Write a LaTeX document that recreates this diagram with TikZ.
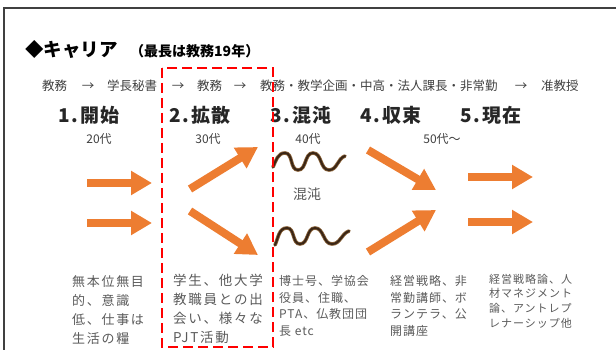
\documentclass[tikz,border=0pt]{standalone}
\usepackage{fontspec}
\setmainfont{Noto Sans CJK JP}
\usetikzlibrary{arrows.meta}
\definecolor{orng}{HTML}{ED7D31}
\definecolor{txtgray}{HTML}{5A5A5A}
\definecolor{hdrgray}{HTML}{404040}
\definecolor{brownout}{HTML}{8A6238}
\definecolor{browncore}{HTML}{3A2616}
\tikzset{
  frameline/.style={draw=hdrgray,line width=1.7pt},
  reddash/.style={draw=red,line width=2.7pt,dash pattern=on 10pt off 5pt},
  oarrow/.style={draw=orng,line width=8pt,-{Triangle[length=21pt,width=23pt]}},
  waveout/.style={draw=brownout,line width=3.6pt,line cap=round},
  wavecore/.style={draw=browncore,line width=2pt,line cap=round},
  hdr/.style={inner sep=0pt,anchor=base west,text=hdrgray,font=\fontsize{12.5}{14}\selectfont},
  hdrarrow/.style={inner sep=0pt,anchor=base,text=hdrgray,font=\fontsize{12.5}{14}\selectfont},
  stagehead/.style={inner sep=0pt,anchor=base,text=black!85,font=\fontsize{19}{22}\selectfont\bfseries\addfontfeature{LetterSpace=10}},
  age/.style={inner sep=0pt,anchor=base,text=hdrgray,font=\fontsize{12}{14}\selectfont},
  desc/.style={inner sep=0pt,anchor=base west,align=left,text=txtgray},
}
\begin{document}
\begin{tikzpicture}[x=1pt,y=-1pt]
\useasboundingbox (0,0) rectangle (616,350);
% frame
\draw[frameline] (4,351) -- (4,8) -- (617,8);
% title
\node[inner sep=0pt,anchor=base west,font=\fontsize{18.5}{22}\selectfont\bfseries] (title) at (25,57) {◆キャリア};
\node[inner sep=0pt,anchor=base west,font=\fontsize{14}{16}\selectfont\bfseries] (sub) at (130,57) {（最長は教務19年）};
% career line
\node[hdr] (h1) at (42,90.7) {教務};
\node[hdrarrow] (h2) at (88,90.7) {→};
\node[hdr] (h3) at (107,90.7) {学長秘書};
\node[hdrarrow] (h4) at (178,90.7) {→};
\node[hdr] (h5) at (197,90.7) {教務};
\node[hdrarrow] (h6) at (240,90.7) {→};
\node[hdr] (h7) at (260,90.7) {教務・教学企画・中高・法人課長・非常勤};
\node[hdrarrow] (h8) at (521,90.7) {→};
\node[hdr] (h9) at (541,90.7) {准教授};
% stage headings
\node[stagehead] (s1) at (89,123) {1.開始};
\node[stagehead] (s2) at (200,123) {2.拡散};
\node[stagehead] (s3) at (301,123) {3.混沌};
\node[stagehead] (s4) at (391,123) {4.収束};
\node[stagehead] (s5) at (491,123) {5.現在};
% ages
\node[age] (g1) at (99,143.5) {20代};
\node[age] (g2) at (208,143.5) {30代};
\node[age] (g3) at (308,143.5) {40代};
\node[age] (g4) at (442,143.5) {50代～};
% stage 1 arrows
\coordinate (a1s) at (87,183); \coordinate (a1e) at (152,183);
\coordinate (a2s) at (87,223); \coordinate (a2e) at (152,223);
\draw[oarrow] (a1s) -- (a1e);
\draw[oarrow] (a2s) -- (a2e);
% stage 2 arrows
\coordinate (b1s) at (190,189); \coordinate (b1e) at (258,147);
\coordinate (b2s) at (190,211); \coordinate (b2e) at (258,255);
\draw[oarrow] (b1s) -- (b1e);
\draw[oarrow] (b2s) -- (b2e);
% stage 3 waves
\coordinate (w1s) at (273,167); \coordinate (w1e) at (345,156);
\coordinate (w2s) at (275,245); \coordinate (w2e) at (349,231);
\foreach \st in {waveout,wavecore}{
\draw[\st] (w1s) to[out=65,in=180] (285,153) to[out=0,in=180] (298,170) to[out=0,in=180] (313,153) to[out=0,in=180] (329,170) to[out=0,in=200] (w1e);
\draw[\st] (w2s) to[out=65,in=180] (287,228) to[out=0,in=180] (300,244) to[out=0,in=180] (315,228) to[out=0,in=180] (332,244) to[out=0,in=200] (w2e);
}
\node[inner sep=0pt,anchor=base,text=txtgray,font=\fontsize{14}{16}\selectfont] (chaos) at (307,200) {混沌};
% stage 4 arrows
\coordinate (c1s) at (368,150); \coordinate (c1e) at (436,190);
\coordinate (c2s) at (368,252); \coordinate (c2e) at (436,210);
\draw[oarrow] (c1s) -- (c1e);
\draw[oarrow] (c2s) -- (c2e);
% stage 5 arrows
\coordinate (d1s) at (468,177); \coordinate (d1e) at (533,177);
\coordinate (d2s) at (468,222); \coordinate (d2e) at (533,222);
\draw[oarrow] (d1s) -- (d1e);
\draw[oarrow] (d2s) -- (d2e);
% red dashed focus box
\draw[reddash] (162,68) rectangle (273,347);
% descriptions (anchor = baseline of the last line)
\node[desc,font=\fontsize{13}{18.7}\selectfont\addfontfeature{LetterSpace=13}] (t1) at (72,343) {無本位無目\\的、意識\\低、仕事は\\生活の糧};
\node[desc,font=\fontsize{13.5}{18.7}\selectfont\addfontfeature{LetterSpace=13}] (t2) at (173,342) {学生、他大学\\教職員との出\\会い、様々な\\PJT活動};
\node[desc,font=\fontsize{12}{16.7}\selectfont\addfontfeature{LetterSpace=8}] (t3) at (279,335.5) {博士号、学協会\\役員、住職、\\PTA、仏教団団\\長 etc};
\node[desc,font=\fontsize{12}{16.7}\selectfont\addfontfeature{LetterSpace=8}] (t4) at (390,335.5) {経営戦略、非\\常勤講師、ボ\\ランテラ、公\\開講座};
\node[desc,font=\fontsize{11}{14.6}\selectfont\addfontfeature{LetterSpace=9}] (t5) at (489,327) {経営戦略論、人\\材マネジメント\\論、アントレプ\\レナーシップ他};
\end{tikzpicture}
\end{document}
